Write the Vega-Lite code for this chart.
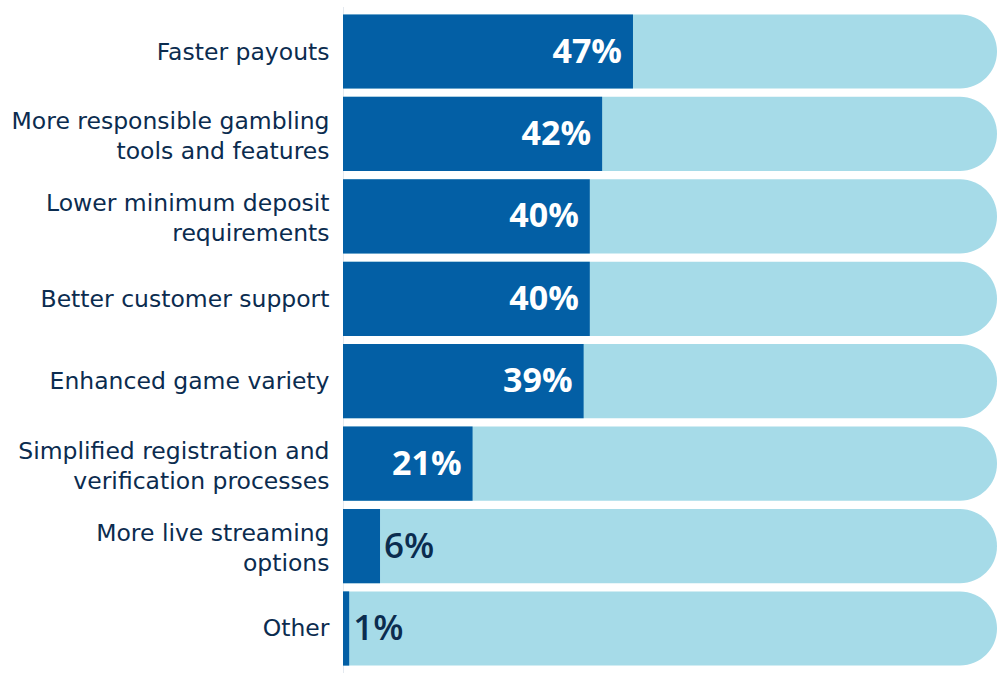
{
  "$schema": "https://vega.github.io/schema/vega-lite/v6.json",
  "width": 654,
  "height": 666,
  "autosize": "none",
  "padding": {"left": 343, "top": 7, "right": 2, "bottom": 6},
  "background": "white",
  "config": {"view": {"stroke": null}, "font": "Open Sans"},
  "data": {
    "values": [
      {"category": "Faster payouts", "value": 47},
      {"category": "More responsible gambling\ntools and features", "value": 42},
      {"category": "Lower minimum deposit\nrequirements", "value": 40},
      {"category": "Better customer support", "value": 40},
      {"category": "Enhanced game variety", "value": 39},
      {"category": "Simplified registration and\nverification processes", "value": 21},
      {"category": "More live streaming\noptions", "value": 6},
      {"category": "Other", "value": 1}
    ]
  },
  "transform": [{"calculate": "datum.value + '%'", "as": "label"}],
  "encoding": {
    "y": {
      "field": "category",
      "type": "nominal",
      "sort": null,
      "scale": {"paddingInner": 0.1, "paddingOuter": 0.09},
      "axis": {
        "title": null,
        "ticks": false,
        "labelPadding": 14,
        "labelFont": "DejaVu Sans",
        "labelFontSize": 23.5,
        "labelColor": "#0b2c4f",
        "labelLineHeight": 30,
        "labelLimit": 400,
        "labelExpr": "split(datum.value, '\\n')",
        "labelOffset": {"condition": {"test": "indexof(datum.value, '\\n') >= 0", "value": -12}, "value": 1},
        "domainColor": "#c9d3de",
        "domainDash": [1, 1],
        "domainWidth": 1
      }
    }
  },
  "layer": [
    {
      "mark": {"type": "bar", "color": "#a6dbe8", "cornerRadiusTopRight": 37, "cornerRadiusBottomRight": 37},
      "encoding": {"x": {"value": 0}, "x2": {"value": "width"}}
    },
    {
      "mark": {"type": "bar", "color": "#035fa5"},
      "encoding": {
        "x": {"field": "value", "type": "quantitative", "scale": {"domain": [0, 106], "nice": false, "zero": true}, "axis": null}
      }
    },
    {
      "transform": [{"filter": "datum.value >= 20"}],
      "mark": {"type": "text", "align": "right", "dx": -11, "baseline": "middle", "dy": 1, "font": "Open Sans", "fontSize": 34, "fontWeight": "bold", "color": "white"},
      "encoding": {
        "x": {"field": "value", "type": "quantitative"},
        "text": {"field": "label", "type": "nominal"}
      }
    },
    {
      "transform": [{"filter": "datum.value < 20"}],
      "mark": {"type": "text", "align": "left", "dx": 4, "baseline": "middle", "dy": 1, "font": "Open Sans", "fontSize": 35, "fontWeight": 600, "color": "#0b2c4f"},
      "encoding": {
        "x": {"field": "value", "type": "quantitative"},
        "text": {"field": "label", "type": "nominal"}
      }
    }
  ]
}
